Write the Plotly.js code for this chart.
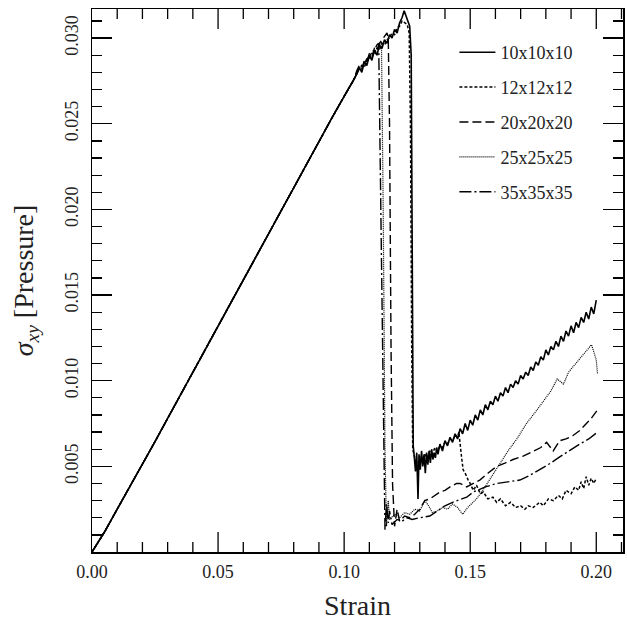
<!DOCTYPE html>
<html>
<head>
<meta charset="utf-8">
<script src="https://cdn.plot.ly/plotly-3.0.1.min.js"></script>
<style>html,body{margin:0;padding:0;background:#fff;}#chart{width:627px;height:621px;}</style>
</head>
<body>
<div id="chart"></div>
<script>
// Shared elastic rise (all meshes coincide)
const riseStrain = [0,0.005,0.010,0.015,0.020,0.025,0.030,0.035,0.040,0.045,0.050,0.055,0.060,0.065,0.070,0.075,0.080,0.085,0.090,0.095,0.100,0.104];
const riseStress = [0,0.00118,0.0025,0.0038,0.0051,0.00645,0.0078,0.00915,0.0105,0.01185,0.0132,0.01455,0.0159,0.01725,0.0186,0.01995,0.0213,0.02265,0.0240,0.0253,0.0266,0.0276];

// 10x10x10
const s10Strain = [0.105,0.106,0.107,0.108,0.109,0.110,0.111,0.112,0.113,0.114,0.115,0.116,0.117,0.118,0.119,0.120,0.121,0.122,0.123,0.1238,0.1245,0.1252,0.1260,0.1266,0.1270,0.1274,0.1278,0.1283,0.1288,0.1293,0.1297,0.1302,0.1307,0.1312,0.1317,0.1322,0.1327,0.1332,0.1337,0.1342,0.1347,0.1352,0.1357,0.1362,0.1367,0.1372,0.138,0.139,0.140,0.141,0.142,0.143,0.144,0.145,0.146,0.147,0.148,0.149,0.150,0.151,0.152,0.153,0.154,0.155,0.156,0.157,0.158,0.159,0.160,0.161,0.162,0.163,0.164,0.165,0.166,0.167,0.168,0.169,0.170,0.171,0.172,0.173,0.174,0.175,0.176,0.177,0.178,0.179,0.180,0.181,0.182,0.183,0.184,0.185,0.186,0.187,0.188,0.189,0.190,0.191,0.192,0.193,0.194,0.195,0.196,0.197,0.198,0.199,0.200];
const s10Stress = [0.0279,0.0283,0.0280,0.0286,0.0284,0.0290,0.0287,0.0293,0.0290,0.0296,0.0294,0.0299,0.0297,0.0302,0.0300,0.0305,0.0303,0.0309,0.0312,0.0316,0.0313,0.0311,0.0307,0.0290,0.0150,0.0062,0.0056,0.0047,0.0058,0.0031,0.0057,0.0048,0.0059,0.0050,0.0057,0.0046,0.0058,0.0051,0.0059,0.0052,0.0060,0.0054,0.0058,0.0055,0.0061,0.0057,0.0063,0.0059,0.0065,0.0062,0.0067,0.0064,0.0069,0.0066,0.0072,0.0069,0.0075,0.0071,0.0077,0.0074,0.0080,0.0077,0.0083,0.0080,0.0086,0.0083,0.0088,0.0086,0.0091,0.0088,0.0093,0.0091,0.0096,0.0093,0.0098,0.0096,0.0100,0.0098,0.0103,0.0101,0.0105,0.0103,0.0108,0.0106,0.0111,0.0109,0.0114,0.0112,0.0118,0.0115,0.0120,0.0118,0.0123,0.0120,0.0126,0.0123,0.0129,0.0126,0.0132,0.0128,0.0134,0.0131,0.0137,0.0134,0.0140,0.0136,0.0143,0.0139,0.0147];

// 12x12x12
const s12Strain = [0.105,0.106,0.107,0.108,0.109,0.110,0.111,0.112,0.113,0.114,0.115,0.116,0.117,0.118,0.119,0.120,0.121,0.122,0.123,0.124,0.125,0.1258,0.1263,0.1268,0.1272,0.128,0.129,0.130,0.131,0.132,0.133,0.134,0.135,0.136,0.137,0.138,0.139,0.140,0.141,0.142,0.143,0.144,0.145,0.1455,0.146,0.1466,0.1472,0.148,0.1492,0.150,0.1512,0.1525,0.154,0.1552,0.157,0.159,0.1605,0.162,0.164,0.166,0.168,0.170,0.1717,0.173,0.175,0.1776,0.179,0.181,0.183,0.185,0.1865,0.188,0.190,0.1915,0.193,0.194,0.195,0.196,0.197,0.198,0.199,0.200];
const s12Stress = [0.0280,0.0282,0.0284,0.0283,0.0287,0.0288,0.0291,0.0290,0.0294,0.0293,0.0297,0.0296,0.0299,0.0300,0.0303,0.0302,0.0306,0.0307,0.0310,0.0309,0.0308,0.0303,0.0250,0.0120,0.0060,0.0055,0.0050,0.0056,0.0053,0.0057,0.0055,0.0059,0.0057,0.0061,0.0059,0.0062,0.0061,0.0064,0.0063,0.0066,0.0065,0.0068,0.0067,0.0070,0.0062,0.0055,0.0048,0.0046,0.0042,0.0040,0.0036,0.0039,0.0034,0.0035,0.0031,0.0032,0.0029,0.0031,0.0027,0.0029,0.0026,0.0027,0.0025,0.0027,0.0026,0.0029,0.0027,0.0031,0.0030,0.0033,0.0031,0.0036,0.0034,0.0038,0.0036,0.0041,0.0037,0.0044,0.0039,0.0043,0.0040,0.0043];

// 20x20x20
const s20Strain = [0.105,0.106,0.107,0.108,0.109,0.110,0.111,0.112,0.113,0.114,0.115,0.116,0.117,0.1175,0.1180,0.1186,0.1192,0.1200,0.121,0.122,0.124,0.126,0.128,0.130,0.132,0.134,0.136,0.138,0.140,0.142,0.1446,0.146,0.1486,0.151,0.1538,0.157,0.1605,0.164,0.167,0.171,0.175,0.178,0.1803,0.1829,0.1855,0.188,0.1908,0.1935,0.1961,0.198,0.2005];
const s20Stress = [0.0281,0.0284,0.0282,0.0287,0.0286,0.0291,0.0289,0.0294,0.0293,0.0297,0.0299,0.0301,0.0303,0.0300,0.0250,0.0120,0.0040,0.0015,0.0025,0.0018,0.0021,0.0020,0.0022,0.0025,0.0030,0.0031,0.0033,0.0035,0.0036,0.0038,0.0040,0.0040,0.0038,0.0040,0.0042,0.0046,0.0050,0.0052,0.0054,0.0056,0.0059,0.0061,0.0064,0.0059,0.0065,0.0066,0.0068,0.0071,0.0075,0.0078,0.0083];

// 25x25x25
const s25Strain = [0.105,0.106,0.107,0.108,0.109,0.110,0.111,0.112,0.113,0.114,0.1148,0.1155,0.1162,0.1168,0.1175,0.118,0.120,0.122,0.124,0.126,0.128,0.130,0.132,0.1335,0.135,0.137,0.139,0.141,0.143,0.145,0.147,0.149,0.1525,0.155,0.158,0.1618,0.165,0.1685,0.1723,0.176,0.179,0.182,0.1845,0.187,0.189,0.1925,0.1955,0.1981,0.199,0.200,0.2005];
const s25Stress = [0.0280,0.0283,0.0282,0.0286,0.0285,0.0289,0.0288,0.0292,0.0294,0.0296,0.0298,0.0200,0.0060,0.0015,0.0030,0.0019,0.0022,0.0020,0.0023,0.0022,0.0025,0.0024,0.0030,0.0027,0.0023,0.0024,0.0026,0.0025,0.0028,0.0026,0.0022,0.0026,0.0031,0.0036,0.0043,0.0052,0.0059,0.0066,0.0075,0.0082,0.0088,0.0094,0.0101,0.0098,0.0105,0.0111,0.0116,0.0121,0.0117,0.0112,0.0104];

// 35x35x35
const s35Strain = [0.105,0.106,0.107,0.108,0.109,0.110,0.111,0.112,0.113,0.1137,0.1145,0.1152,0.1158,0.1162,0.1168,0.1175,0.118,0.119,0.121,0.123,0.125,0.127,0.130,0.134,0.137,0.140,0.143,0.1486,0.1512,0.156,0.1605,0.165,0.1697,0.174,0.1776,0.182,0.1855,0.189,0.1934,0.197,0.2005];
const s35Stress = [0.0279,0.0282,0.0284,0.0285,0.0288,0.0289,0.0292,0.0293,0.0296,0.0297,0.0200,0.0110,0.0040,0.0013,0.0028,0.0017,0.0024,0.0016,0.0019,0.0018,0.0020,0.0019,0.0020,0.0021,0.0024,0.0027,0.0029,0.0032,0.0035,0.0038,0.0040,0.0041,0.0042,0.0045,0.0048,0.0052,0.00555,0.0059,0.0063,0.0066,0.0070];

const names = ['10x10x10','12x12x12','20x20x20','25x25x25','35x35x35'];
const xTickVals = [0, 0.05, 0.10, 0.15, 0.20];
const xMajorMarks = [0.05, 0.10, 0.15, 0.20];
const xMinorMarks = [0.01,0.02,0.03,0.04,0.06,0.07,0.08,0.09,0.11,0.12,0.13,0.14,0.16,0.17,0.18,0.19,0.21];
const yTickVals = [0.005, 0.010, 0.015, 0.020, 0.025, 0.030];

const xs = [s10Strain, s12Strain, s20Strain, s25Strain, s35Strain];
const ys = [s10Stress, s12Stress, s20Stress, s25Stress, s35Stress];
const dashes = ['solid','3px,2px','9px,4px','1px,1px','12px,3px,2px,3px'];
const widths = [1.6, 1.5, 1.4, 1.2, 1.4];

const X_RANGE = [0, 0.2106], Y_RANGE = [0, 0.0317];
const PLOT_H = 621 - 9 - 69;

const traces = names.map((n, i) => ({
  type: 'scatter', mode: 'lines', name: n, legendgroup: n,
  x: riseStrain.concat(xs[i]), y: riseStress.concat(ys[i]),
  line: {color: '#000', width: widths[i], dash: dashes[i]}
}));

// x-axis tick marks (bottom and top edges) drawn as a line trace through the axis scales
const tx = [], ty = [];
function addXTick(v, lenPx) {
  const d = lenPx / PLOT_H * (Y_RANGE[1] - Y_RANGE[0]);
  tx.push(v, v, null, v, v, null);
  ty.push(Y_RANGE[0], Y_RANGE[0] + d, null, Y_RANGE[1], Y_RANGE[1] - d, null);
}
xMajorMarks.forEach(v => addXTick(v, 20));
xMinorMarks.forEach(v => addXTick(v, 10));
traces.push({type: 'scatter', mode: 'lines', x: tx, y: ty, connectgaps: false, showlegend: false,
             hoverinfo: 'skip', line: {color: '#000', width: 1.3}});
// empty trace so the mirrored tick axis (right side) exists
traces.push({type: 'scatter', mode: 'lines', x: [], y: [], xaxis: 'x2', yaxis: 'y2', showlegend: false, hoverinfo: 'skip'});

const font = 'Liberation Serif, DejaVu Serif, serif';
const tickBase = {ticks: 'inside', ticklen: 20, tickwidth: 1.3, tickcolor: '#000', showgrid: false, zeroline: false};
const yMinor = {ticks: 'inside', ticklen: 10, tickwidth: 1.3, tickcolor: '#000', tickmode: 'linear', tick0: 0, dtick: 0.001};

const layout = {
  width: 627, height: 621,
  margin: {l: 92, r: 4, t: 9, b: 69},
  paper_bgcolor: '#fff', plot_bgcolor: '#fff',
  showlegend: true,
  legend: {x: 0.6825, y: 0.954, xanchor: 'left', yanchor: 'top', bgcolor: 'rgba(0,0,0,0)',
           font: {family: font, size: 18, color: '#222'}, tracegroupgap: 8.5, itemwidth: 36},
  xaxis: {
    range: X_RANGE, showline: true, linecolor: '#000', linewidth: 1.5, mirror: true,
    ticks: '', showgrid: false, zeroline: false,
    tickmode: 'array', tickvals: xTickVals, tickformat: '.2f', ticklabelstandoff: 3,
    tickfont: {family: font, size: 18, color: '#222'},
    title: {text: 'Strain', font: {family: font, size: 28, color: '#222'}, standoff: 16}
  },
  yaxis: Object.assign({}, tickBase, {
    range: Y_RANGE, showline: true, linecolor: '#000', linewidth: 1.5, mirror: true,
    tickmode: 'array', tickvals: yTickVals, tickformat: '.3f', tickangle: -90, ticklabelstandoff: 5,
    tickfont: {family: font, size: 18, color: '#222'},
    minor: yMinor,
    title: {text: '<i>σ</i><sub><i>xy</i></sub> [Pressure]', font: {family: font, size: 28, color: '#222'}, standoff: 20}
  }),
  xaxis2: {
    overlaying: 'x', side: 'top', anchor: 'y2', range: X_RANGE, showticklabels: false, showline: false,
    ticks: '', showgrid: false, zeroline: false
  },
  yaxis2: Object.assign({}, tickBase, {
    overlaying: 'y', side: 'right', anchor: 'x2', range: Y_RANGE, showticklabels: false, showline: false,
    tickmode: 'array', tickvals: yTickVals, minor: yMinor
  })
};

Plotly.newPlot('chart', traces, layout, {staticPlot: true, displayModeBar: false});
</script>
</body>
</html>
